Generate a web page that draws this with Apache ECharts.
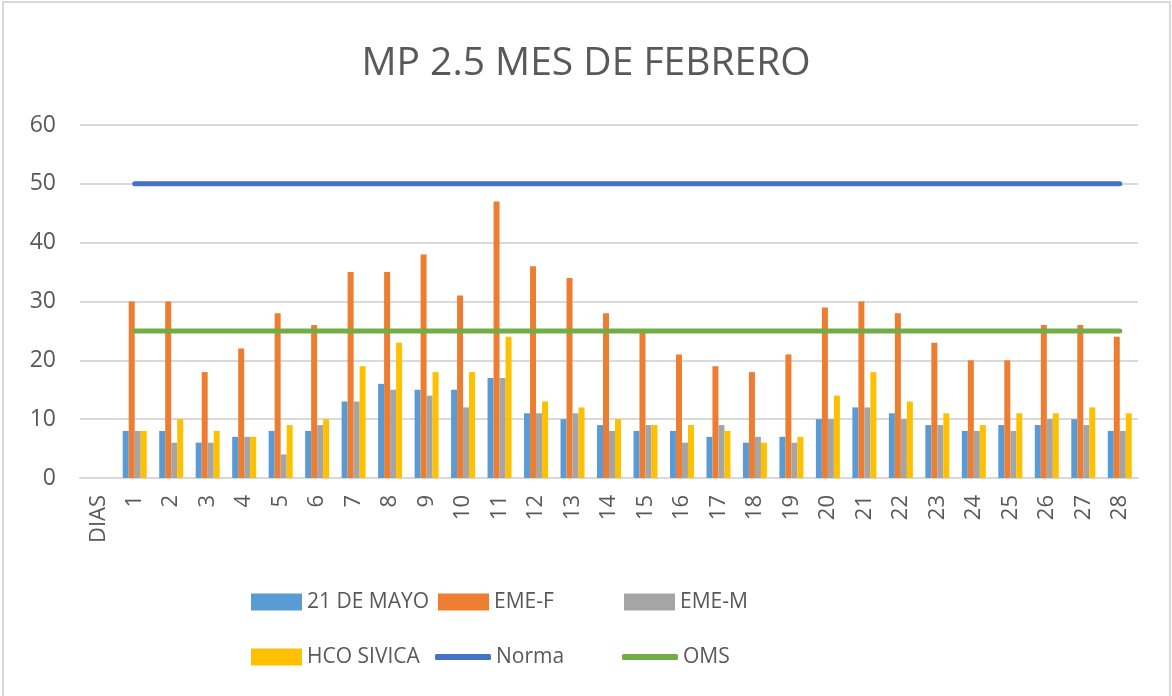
<!DOCTYPE html>
<html>
<head>
<meta charset="utf-8">
<script src="https://cdn.jsdelivr.net/npm/echarts@6/dist/echarts.min.js"></script>
<style>
  html, body { margin: 0; padding: 0; background: #fff; }
  #chart { width: 1172px; height: 696px; }
</style>
</head>
<body>
<div id="chart"></div>
<script>
// datos del reporte MP 2.5
var dias = ['DIAS', '1', '2', '3', '4', '5', '6', '7', '8', '9', '10', '11', '12', '13', '14',
  '15', '16', '17', '18', '19', '20', '21', '22', '23', '24', '25', '26', '27', '28'];

var mayo21 = ['-', 8, 8, 6, 7, 8, 8, 13, 16, 15, 15, 17, 11, 10, 9, 8, 8, 7, 6, 7, 10, 12, 11, 9, 8, 9, 9, 10, 8];
var emeF = ['-', 30, 30, 18, 22, 28, 26, 35, 35, 38, 31, 47, 36, 34, 28, 25, 21, 19, 18, 21, 29, 30, 28, 23, 20, 20, 26, 26, 24];
var emeM = ['-', 8, 6, 6, 7, 4, 9, 13, 15, 14, 12, 17, 11, 11, 8, 9, 6, 9, 7, 6, 10, 12, 10, 9, 8, 8, 10, 9, 8];
var hco = ['-', 8, 10, 8, 7, 9, 10, 19, 23, 18, 18, 24, 13, 12, 10, 9, 9, 8, 6, 7, 14, 18, 13, 11, 9, 11, 11, 12, 11];
var norma = ['-', 50, 50, 50, 50, 50, 50, 50, 50, 50, 50, 50, 50, 50, 50, 50, 50, 50, 50, 50, 50, 50, 50, 50, 50, 50, 50, 50, 50];
var oms = ['-', 25, 25, 25, 25, 25, 25, 25, 25, 25, 25, 25, 25, 25, 25, 25, 25, 25, 25, 25, 25, 25, 25, 25, 25, 25, 25, 25, 25];

var fuente = 'Open Sans';
var gris = '#595959';

function barra(nombre, datos, color) {
  return {
    name: nombre, type: 'bar', data: datos, barWidth: 6, barGap: '0%',
    itemStyle: { color: color }
  };
}
function linea(nombre, datos, color) {
  return {
    name: nombre, type: 'line', data: datos, symbol: 'none',
    lineStyle: { color: color, width: 5, cap: 'round' },
    itemStyle: { color: color }
  };
}
function leyenda(nombre, x, centro, esLinea) {
  return {
    data: [nombre], left: x, top: centro - 15, padding: 0,
    itemWidth: esLinea ? 56 : 51, itemHeight: esLinea ? 6 : 17,
    icon: esLinea ? 'roundRect' : 'rect',
    itemGap: 0, selectedMode: false,
    textStyle: { fontFamily: fuente, fontSize: 21, color: gris, lineHeight: 30 }
  };
}

var myChart = echarts.init(document.getElementById('chart'));
var option = {
  backgroundColor: '#fff',
  animation: false,
  title: {
    text: 'MP 2.5 MES DE FEBRERO', left: 'center', top: 39,
    textStyle: { fontFamily: fuente, fontSize: 39, fontWeight: 'normal', color: gris }
  },
  graphic: [{
    type: 'rect', shape: { x: 3, y: 2, width: 1167, height: 700 },
    style: { fill: 'none', stroke: '#d9d9d9', lineWidth: 2 }
  }],
  legend: [
    leyenda('21 DE MAYO', 251, 602, false),
    leyenda('EME-F', 438, 602, false),
    leyenda('EME-M', 624, 602, false),
    leyenda('HCO SIVICA', 251, 657, false),
    leyenda('Norma', 435, 657, true),
    leyenda('OMS', 622, 657, true)
  ],
  grid: { left: 80, right: 34, top: 125, bottom: 218 },
  xAxis: {
    type: 'category', data: dias,
    axisLine: { lineStyle: { color: '#d9d9d9', width: 2 } },
    axisTick: { show: false },
    axisLabel: { rotate: 90, interval: 0, fontFamily: fuente, fontSize: 22, color: gris, margin: 17 }
  },
  yAxis: {
    type: 'value', min: 0, max: 60, interval: 10,
    axisLine: { show: false }, axisTick: { show: false },
    splitLine: { lineStyle: { color: '#d9d9d9', width: 2 } },
    axisLabel: { fontFamily: fuente, fontSize: 23, color: gris, margin: 24 }
  },
  series: [
    barra('21 DE MAYO', mayo21, '#5B9BD5'),
    barra('EME-F', emeF, '#ED7D31'),
    barra('EME-M', emeM, '#A5A5A5'),
    barra('HCO SIVICA', hco, '#FFC000'),
    linea('Norma', norma, '#4472C4'),
    linea('OMS', oms, '#70AD47')
  ]
};
myChart.setOption(option);
</script>
</body>
</html>
